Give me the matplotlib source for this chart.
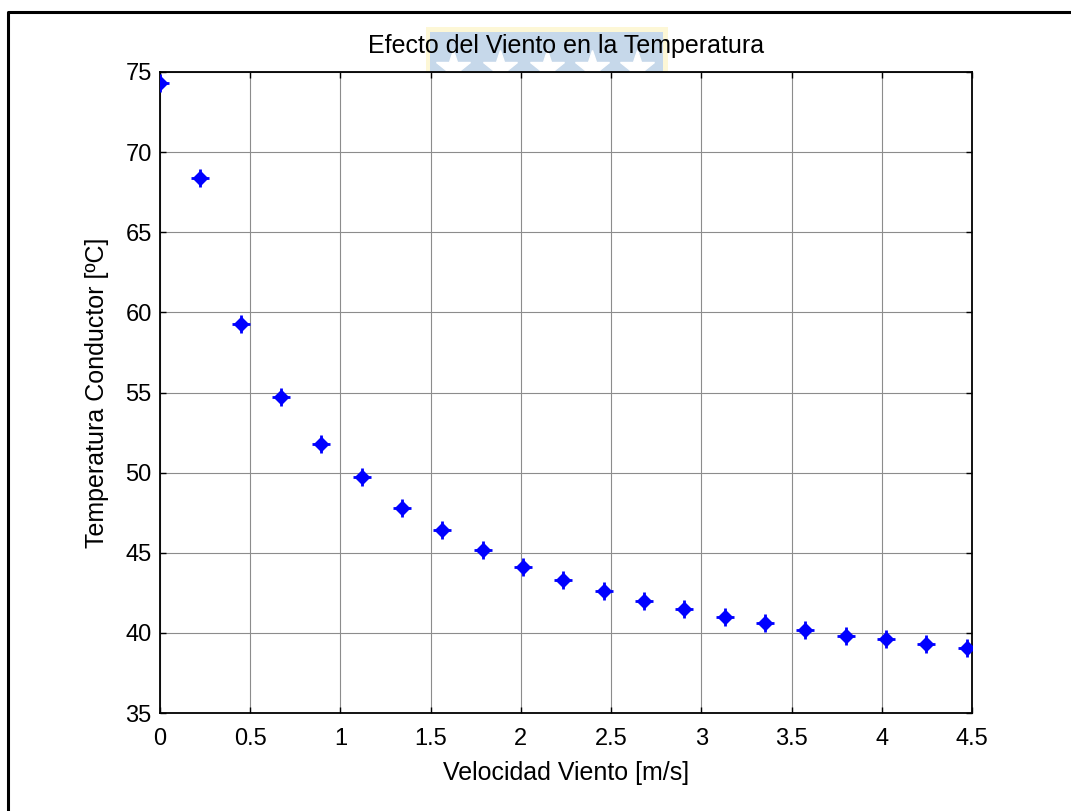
import numpy as np
import matplotlib.pyplot as plt
from matplotlib.lines import Line2D
from matplotlib.patches import Rectangle

plt.rcParams['font.family'] = ['Liberation Sans', 'DejaVu Sans']

# wind speed [m/s] and conductor temperature [ºC]
velocidad = [0.0, 0.224, 0.447, 0.671, 0.894, 1.118, 1.341, 1.565, 1.788, 2.012,
             2.235, 2.459, 2.682, 2.906, 3.129, 3.353, 3.576, 3.800, 4.023, 4.247, 4.470]
temperatura = [74.3, 68.4, 59.3, 54.7, 51.8, 49.7, 47.8, 46.4, 45.2, 44.1,
               43.3, 42.6, 42.0, 41.5, 41.0, 40.6, 40.2, 39.8, 39.6, 39.3, 39.05]
xticks = [0, 0.5, 1, 1.5, 2, 2.5, 3, 3.5, 4, 4.5]
xlabels = ['0', '0.5', '1', '1.5', '2', '2.5', '3', '3.5', '4', '4.5']
yticks = [35, 40, 45, 50, 55, 60, 65, 70, 75]

W, H = 1071, 811
fig = plt.figure(figsize=(W / 100, H / 100), dpi=100)

# faint watermark behind the title
fig.add_artist(Rectangle((426 / W, 1 - 72 / H), 242 / W, 45 / H,
                         transform=fig.transFigure, facecolor='#fdf7d6',
                         edgecolor='none', zorder=-2))
fig.add_artist(Rectangle((430 / W, 1 - 72 / H), 233 / W, 40 / H,
                         transform=fig.transFigure, facecolor='#c6d8ea',
                         edgecolor='none', zorder=-1))
for sx in [453, 500, 547, 592, 637]:
    fig.add_artist(Line2D([sx / W], [1 - 68 / H], transform=fig.transFigure,
                          marker='*', markersize=26, color='white', zorder=-1))

# outer frame (left and top visible)
fig.add_artist(Line2D([8 / W, 8 / W, 1.0], [0.0, 1 - 12 / H, 1 - 12 / H],
                      transform=fig.transFigure, color='black', lw=2.2))

ax = fig.add_axes([160 / W, 1 - 713 / H, 812 / W, 641 / H])
ax.plot(velocidad, temperatura, linestyle='none', marker='+', markersize=13,
        markeredgewidth=2, color='#0000ff', zorder=3)
ax.plot(velocidad, temperatura, linestyle='none', marker='D', markersize=7,
        color='#0000ff', zorder=3)

ax.set_xlim(0, 4.5)
ax.set_ylim(35, 75)
ax.set_xticks(xticks)
ax.set_xticklabels(xlabels)
ax.set_yticks(yticks)
ax.grid(True, color='0.55', lw=0.8)
ax.set_axisbelow(True)
ax.tick_params(direction='in', length=4, width=1, top=True, right=True,
               labelsize=17)
ax.tick_params(axis='x', pad=11)
ax.tick_params(axis='y', pad=6)
for s in ax.spines.values():
    s.set_linewidth(1.3)
for lab in ax.get_xticklabels() + ax.get_yticklabels():
    lab.set_clip_on(False)

ax.set_title('Efecto del Viento en la Temperatura', fontsize=18, pad=14)
ax.set_xlabel('Velocidad Viento [m/s]', fontsize=18, labelpad=8)
ax.set_ylabel('Temperatura Conductor [ºC]', fontsize=18, labelpad=12)

fig.savefig('out.png', dpi=100)
